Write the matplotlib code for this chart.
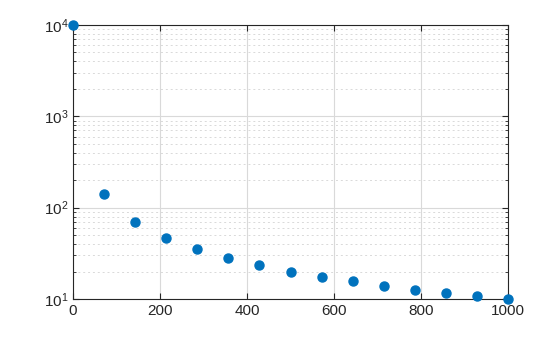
import matplotlib
matplotlib.use("Agg")
import matplotlib.pyplot as plt
from matplotlib.ticker import LogLocator, NullFormatter, FixedLocator

plt.rcParams['font.family'] = ['Liberation Sans', 'DejaVu Sans']

x_vals = [0, 71.43, 142.86, 214.29, 285.71, 357.14, 428.57, 500, 571.43,
          642.86, 714.29, 785.71, 857.14, 928.57, 1000]
y_vals = [10000, 140, 70, 46.7, 35, 28, 23.3, 20, 17.5, 15.6, 14, 12.7, 11.7, 10.8, 10]
x_ticks = [0, 200, 400, 600, 800, 1000]

fig = plt.figure(figsize=(5.6, 3.37), dpi=100)
ax = fig.add_axes([73/560, 1-299/337, (508-73)/560, (299-25)/337])

ax.plot(x_vals, y_vals, 'o', color='#0072BD', markersize=6.5, clip_on=False, zorder=5)
ax.set_yscale('log')
ax.set_xlim(0, 1000)
ax.set_ylim(10, 10000)
ax.xaxis.set_major_locator(FixedLocator(x_ticks))
ax.yaxis.set_major_locator(LogLocator(base=10, numticks=10))
ax.yaxis.set_minor_locator(LogLocator(base=10, subs=range(2, 10), numticks=20))
ax.yaxis.set_minor_formatter(NullFormatter())

ax.grid(True, which='major', color='#d9d9d9', linewidth=0.8, linestyle='-')
ax.grid(True, which='minor', axis='y', color='#d9d9d9', linewidth=0.7, linestyle=(0, (2, 3)))
ax.set_axisbelow(True)

for s in ax.spines.values():
    s.set_color('#262626')
    s.set_linewidth(0.8)
ax.tick_params(which='both', direction='in', top=True, right=True, colors='#262626',
               labelsize=11, labelcolor='#262626')
ax.tick_params(which='major', length=4)
ax.tick_params(which='minor', length=2)

fig.savefig('out.png', dpi=100)
